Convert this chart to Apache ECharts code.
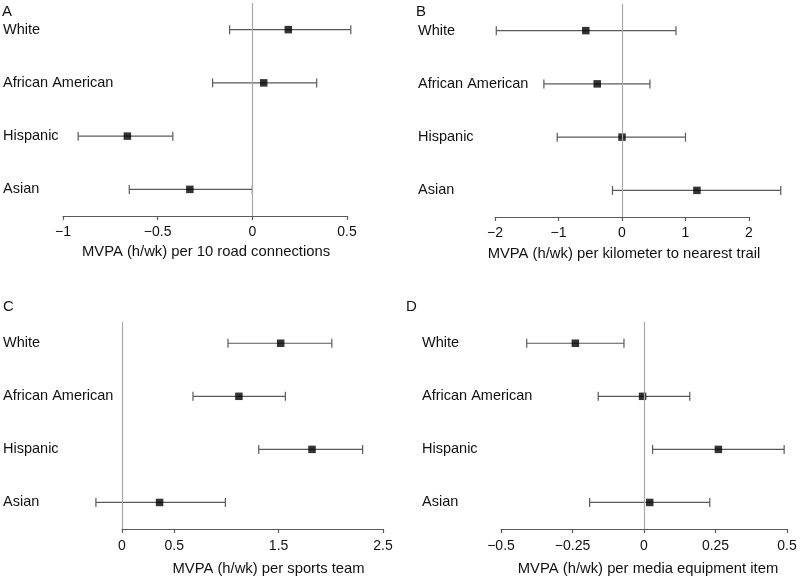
<!DOCTYPE html>
<html>
<head>
<meta charset="utf-8">
<script src="https://cdn.jsdelivr.net/npm/echarts@6/dist/echarts.min.js"></script>
<style>
html, body { margin: 0; padding: 0; background: #fff; }
#chart { width: 800px; height: 577px; }
</style>
</head>
<body>
<div id="chart"></div>
<script>
const groups = ['White', 'African American', 'Hispanic', 'Asian'];
const rows = [1, 2, 3, 4];

// A - road connections
const roadEst = [0.19, 0.06, -0.66, -0.33];
const roadLow = [-0.12, -0.21, -0.92, -0.65];
const roadHigh = [0.52, 0.34, -0.42, 0.0];
const roadTicks = [-1, -0.5, 0, 0.5];

// B - distance to trail
const trailEst = [-0.57, -0.39, 0.0, 1.18];
const trailLow = [-1.98, -1.23, -1.02, -0.15];
const trailHigh = [0.85, 0.44, 1.0, 2.5];
const trailTicks = [-2, -1, 0, 1, 2];

// C - sports teams
const sportEst = [1.52, 1.12, 1.82, 0.36];
const sportLow = [1.015, 0.68, 1.31, -0.25];
const sportHigh = [2.01, 1.565, 2.305, 0.99];
const sportTicks = [0, 0.5, 1.5, 2.5];

// D - media equipment
const mediaEst = [-0.24, -0.005, 0.26, 0.02];
const mediaLow = [-0.41, -0.16, 0.03, -0.19];
const mediaHigh = [-0.07, 0.16, 0.49, 0.23];
const mediaTicks = [-0.5, -0.25, 0, 0.25, 0.5];

const font = 'Liberation Sans, Arial, sans-serif';
const txt = '#111';
const grey = '#5a5a5a';

function panel(i, est, low, high, ticks, name, p) {
  const grid = { left: p.left, top: p.top, width: p.width, height: p.height };
  const xAxis = {
    type: 'value', gridIndex: i,
    min: ticks[0], max: ticks[ticks.length - 1],
    splitLine: { show: false },
    axisLine: { lineStyle: { color: grey, width: 1.2 } },
    axisTick: { customValues: ticks, length: 4, lineStyle: { color: grey, width: 1.2 } },
    axisLabel: {
      customValues: ticks, margin: p.labelMargin,
      fontFamily: font, fontSize: 14, color: txt,
      formatter: v => String(v).replace('-', '\u2212')
    },
    name: name, nameLocation: 'middle', nameGap: p.nameGap,
    nameTextStyle: { fontFamily: font, fontSize: 14.8, color: txt, padding: [0, 0, 0, p.nameShift] }
  };
  const yAxis = {
    type: 'value', gridIndex: i, inverse: true,
    min: p.ymin, max: 4.5,
    axisLine: { show: false }, axisTick: { show: false }, splitLine: { show: false },
    axisLabel: {
      customValues: rows, align: 'left', margin: p.catMargin,
      fontFamily: font, fontSize: 14.5, color: txt, padding: [7, 0, 0, 0],
      formatter: v => groups[v - 1]
    }
  };
  const bars = {
    type: 'custom', xAxisIndex: i, yAxisIndex: i, z: 2,
    data: rows.map((r, k) => [low[k], high[k], r]),
    renderItem: (params, api) => {
      const a = api.coord([api.value(0), api.value(2)]);
      const b = api.coord([api.value(1), api.value(2)]);
      const h = 4.5;
      const st = { stroke: grey, lineWidth: 1.2 };
      return {
        type: 'group', children: [
          { type: 'line', shape: { x1: a[0], y1: a[1], x2: b[0], y2: b[1] }, style: st },
          { type: 'line', shape: { x1: a[0], y1: a[1] - h, x2: a[0], y2: a[1] + h }, style: st },
          { type: 'line', shape: { x1: b[0], y1: b[1] - h, x2: b[0], y2: b[1] + h }, style: st }
        ]
      };
    },
    markLine: {
      silent: true, symbol: 'none', label: { show: false },
      lineStyle: { color: '#a8a8a8', width: 1.2, type: 'solid' },
      data: [{ xAxis: 0 }]
    }
  };
  const pts = {
    type: 'scatter', xAxisIndex: i, yAxisIndex: i, z: 3,
    symbol: 'rect', symbolSize: 7.5,
    itemStyle: { color: '#000' },
    data: rows.map((r, k) => [est[k], r])
  };
  return { grid, xAxis, yAxis, series: [bars, pts] };
}

const panels = [
  panel(0, roadEst, roadLow, roadHigh, roadTicks, 'MVPA (h/wk) per 10 road connections',
    { left: 63, top: 3, width: 284, height: 213, ymin: 0.5, labelMargin: 9, nameGap: 28, nameShift: 2, catMargin: 60 }),
  panel(1, trailEst, trailLow, trailHigh, trailTicks, 'MVPA (h/wk) per kilometer to nearest trail',
    { left: 495, top: 4, width: 254, height: 213, ymin: 0.5, labelMargin: 9, nameGap: 29, nameShift: 4, catMargin: 77 }),
  panel(2, sportEst, sportLow, sportHigh, sportTicks, 'MVPA (h/wk) per sports team',
    { left: 122, top: 322, width: 261, height: 207, ymin: 0.6, labelMargin: 10, nameGap: 32, nameShift: 32, catMargin: 119 }),
  panel(3, mediaEst, mediaLow, mediaHigh, mediaTicks, 'MVPA (h/wk) per media equipment item',
    { left: 501, top: 322, width: 286, height: 207, ymin: 0.6, labelMargin: 10, nameGap: 32, nameShift: 8, catMargin: 79 })
];

const letterStyle = { fontFamily: font, fontSize: 15, fontWeight: 'normal', color: txt };
const option = {
  animation: false,
  title: [
    { text: 'A', left: 2, top: 4, padding: 0, textStyle: letterStyle },
    { text: 'B', left: 416, top: 4, padding: 0, textStyle: letterStyle },
    { text: 'C', left: 3, top: 299, padding: 0, textStyle: letterStyle },
    { text: 'D', left: 406, top: 299, padding: 0, textStyle: letterStyle }
  ],
  grid: panels.map(p => p.grid),
  xAxis: panels.map(p => p.xAxis),
  yAxis: panels.map(p => p.yAxis),
  series: panels.flatMap(p => p.series)
};

echarts.init(document.getElementById('chart')).setOption(option);
</script>
</body>
</html>
